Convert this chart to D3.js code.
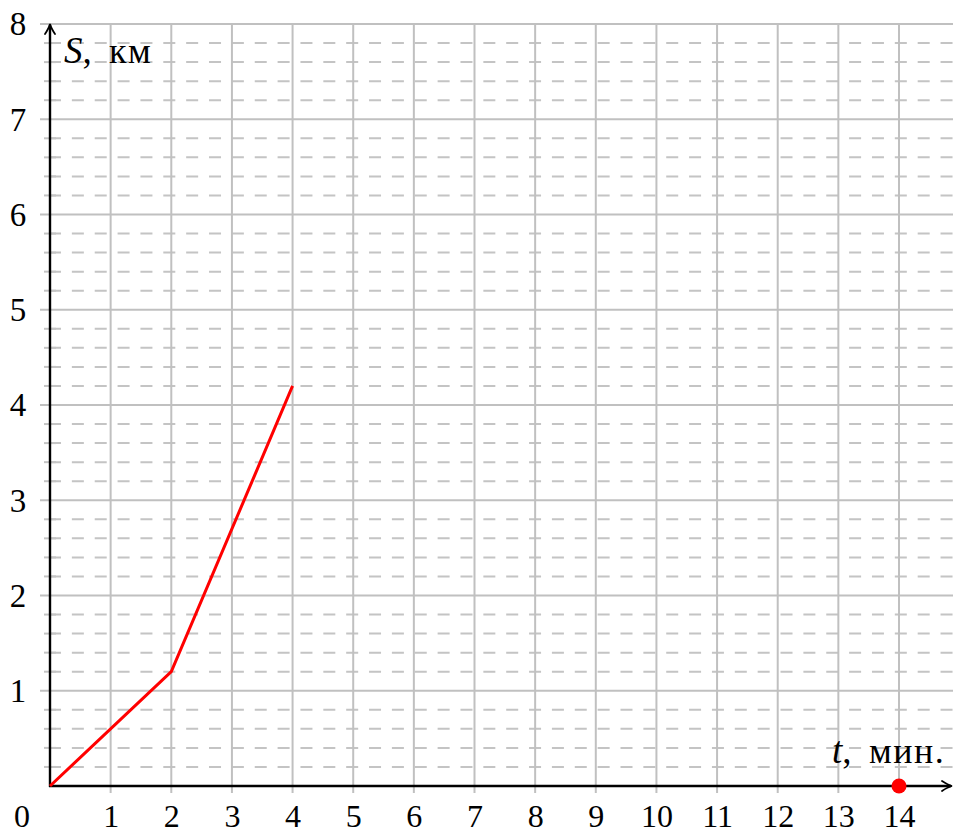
<!DOCTYPE html>
<html>
<head>
<meta charset="utf-8">
<script src="https://cdn.jsdelivr.net/npm/d3@7"></script>
<style>
  html, body { margin: 0; padding: 0; background: #fff; }
  svg { display: block; }
  text { font-family: "Liberation Serif", "Times New Roman", serif; fill: #000; }
</style>
</head>
<body>
<svg id="chart" width="953" height="834"></svg>
<script>
// ---- data ----
const tValues = [0, 2, 4];          // t, мин.
const sValues = [0, 1.2, 4.2];      // S, км
const markerT = [14];
const markerS = [0];
const xTickLabels = [1, 2, 3, 4, 5, 6, 7, 8, 9, 10, 11, 12, 13, 14];
const yTickLabels = [1, 2, 3, 4, 5, 6, 7, 8];
const yMinorTicks = d3.range(1, 40).filter(i => i % 5 !== 0).map(i => i / 5);
const xAxisTitle = "мин.";
const yAxisTitle = "км";

// ---- layout ----
const W = 953, H = 834;
const svg = d3.select("#chart");
const x = d3.scaleLinear().domain([0, 14]).range([50, 899]);
const y = d3.scaleLinear().domain([0, 8]).range([786, 24]);
const xEnd = 953;

const grid = svg.append("g");
// minor dashed horizontal lines
grid.selectAll("line.minor").data(yMinorTicks).enter().append("line")
  .attr("x1", 49).attr("x2", xEnd)
  .attr("y1", d => y(d)).attr("y2", d => y(d))
  .attr("stroke", "#c4c4c4").attr("stroke-width", 2)
  .attr("stroke-dasharray", "12,10.86");
// minor ticks on y axis
grid.selectAll("line.mtick").data(yMinorTicks).enter().append("line")
  .attr("x1", 44).attr("x2", 56)
  .attr("y1", d => y(d)).attr("y2", d => y(d))
  .attr("stroke", "#c4c4c4").attr("stroke-width", 2);
// major horizontal lines
grid.selectAll("line.hmaj").data(yTickLabels).enter().append("line")
  .attr("x1", 40).attr("x2", xEnd)
  .attr("y1", d => y(d)).attr("y2", d => y(d))
  .attr("stroke", "#c0c0c0").attr("stroke-width", 2);
// major vertical lines
grid.selectAll("line.vmaj").data(xTickLabels).enter().append("line")
  .attr("x1", d => x(d)).attr("x2", d => x(d))
  .attr("y1", y(8)).attr("y2", y(0) + 7)
  .attr("stroke", "#c0c0c0").attr("stroke-width", 2);

// axes lines with arrows
function arrowHead(g, tx, ty, dir) {
  let p;
  if (dir === "up") {
    p = `M${tx - 5},${ty + 10} Q${tx - 1},${ty + 4} ${tx},${ty} Q${tx + 1},${ty + 4} ${tx + 5},${ty + 10}`;
  } else {
    p = `M${tx - 10},${ty - 5} Q${tx - 4},${ty - 1} ${tx},${ty} Q${tx - 4},${ty + 1} ${tx - 10},${ty + 5}`;
  }
  g.append("path").attr("d", p).attr("fill", "none").attr("stroke", "#000")
    .attr("stroke-width", 1.8).attr("stroke-linecap", "round");
}
const ax = svg.append("g");
ax.append("line").attr("x1", x(0)).attr("x2", x(0)).attr("y1", y(0) + 1).attr("y2", 25)
  .attr("stroke", "#000").attr("stroke-width", 2.4);
ax.append("line").attr("x1", x(0) - 1).attr("x2", 951).attr("y1", y(0)).attr("y2", y(0))
  .attr("stroke", "#000").attr("stroke-width", 2.4);
arrowHead(ax, x(0), 24, "up");
arrowHead(ax, 952, y(0), "right");

// tick labels via d3 axes
const yAxis = svg.append("g").attr("transform", `translate(${x(0)},0)`)
  .call(d3.axisLeft(y).tickValues(yTickLabels).tickSize(0).tickFormat(d3.format("d")));
yAxis.select(".domain").remove();
yAxis.selectAll("text").attr("x", -32).attr("text-anchor", "middle")
  .attr("dy", "0.33em").style("font-size", "33px")
  .style("font-family", "'Liberation Serif', serif").attr("fill", "#000");

const xAxis = svg.append("g").attr("transform", `translate(0,${y(0)})`)
  .call(d3.axisBottom(x).tickValues(xTickLabels).tickSize(0).tickFormat(d3.format("d")));
xAxis.select(".domain").remove();
xAxis.selectAll("text").attr("y", 41).attr("dy", null).attr("text-anchor", "middle")
  .style("font-size", "32px").style("font-family", "'Liberation Serif', serif").attr("fill", "#000");

// origin label
svg.append("text").attr("x", 22).attr("y", y(0) + 41)
  .attr("text-anchor", "middle").style("font-size", "32px").text("0");

// axis titles
const yt = svg.append("text").attr("y", 63).style("font-size", "37px");
yt.append("tspan").attr("x", 64).style("font-style", "italic").text("S");
yt.append("tspan").text(",");
yt.append("tspan").attr("x", 109).style("font-size", "36px").style("letter-spacing", "1.5px").text(yAxisTitle);

const xt = svg.append("text").attr("y", 763).style("font-size", "37px");
xt.append("tspan").attr("x", 832).style("font-style", "italic").text("t");
xt.append("tspan").text(",");
xt.append("tspan").attr("x", 869).style("font-size", "36px").style("letter-spacing", "1.5px").text(xAxisTitle);

// data line
const line = d3.line().x((d, i) => x(tValues[i])).y((d, i) => y(sValues[i]));
svg.append("path").datum(tValues).attr("d", line)
  .attr("fill", "none").attr("stroke", "#ff0000").attr("stroke-width", 3)
  .attr("stroke-linejoin", "miter");

// marker
svg.selectAll("circle.mk").data(markerT).enter().append("circle")
  .attr("cx", (d, i) => x(d)).attr("cy", (d, i) => y(markerS[i]))
  .attr("r", 7.5).attr("fill", "#ff0000");
</script>
</body>
</html>
